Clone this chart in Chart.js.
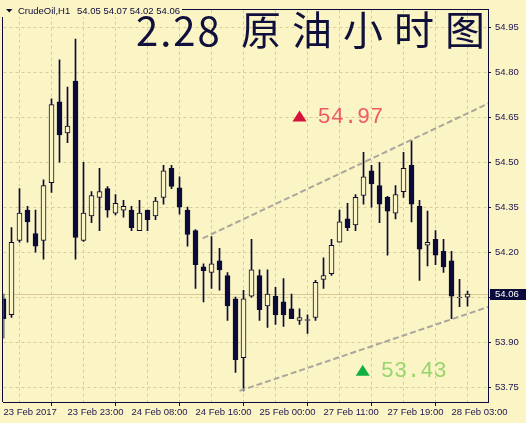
<!DOCTYPE html>
<html>
<head>
<meta charset="utf-8">
<script src="https://cdn.jsdelivr.net/npm/chart.js@4"></script>
<style>
    html, body { margin: 0; padding: 0; background: #fbf4c4; }
</style>
</head>
<body>
<canvas id="grafico" width="526" height="423"></canvas>
<script>
// etiquetas del eje de tiempo (una cada 8 velas)
const etiquetasHora = ['23 Feb 2017', '23 Feb 23:00', '24 Feb 08:00', '24 Feb 16:00',
    '25 Feb 00:00', '27 Feb 11:00', '27 Feb 19:00', '28 Feb 03:00'];

// velas H1
const aperturas = [54.044, 53.991, 54.239, 54.340, 54.262, 54.239, 54.432, 54.702, 54.598, 54.771,
    54.239, 54.321, 54.383, 54.412, 54.330, 54.340, 54.340, 54.272, 54.340, 54.321,
    54.383, 54.480, 54.415, 54.340, 54.272, 54.151, 54.132, 54.171, 54.122, 54.044,
    53.848, 54.053, 54.122, 54.021, 54.053, 54.034, 54.011, 53.972, 53.972, 53.982,
    54.109, 54.128, 54.233, 54.311, 54.291, 54.389, 54.471, 54.422, 54.383, 54.330,
    54.402, 54.490, 54.353, 54.223, 54.243, 54.203, 54.171, 54.047, 54.05];
const maximos = [54.060, 54.282, 54.412, 54.353, 54.340, 54.441, 54.712, 54.842, 54.751, 54.911,
    54.500, 54.402, 54.480, 54.419, 54.392, 54.373, 54.353, 54.373, 54.340, 54.383,
    54.490, 54.490, 54.451, 54.350, 54.275, 54.161, 54.252, 54.213, 54.132, 54.050,
    54.073, 54.243, 54.141, 54.141, 54.083, 54.112, 54.060, 54.011, 53.991, 54.106,
    54.181, 54.243, 54.340, 54.363, 54.392, 54.533, 54.490, 54.500, 54.386, 54.422,
    54.533, 54.572, 54.373, 54.337, 54.272, 54.243, 54.203, 54.109, 54.07];
const minimos = [53.913, 53.982, 54.233, 54.233, 54.200, 54.177, 54.399, 54.500, 54.565, 54.177,
    54.236, 54.298, 54.272, 54.317, 54.324, 54.317, 54.272, 54.272, 54.272, 54.308,
    54.360, 54.412, 54.327, 54.220, 54.079, 54.034, 54.079, 54.073, 53.972, 53.799,
    53.737, 54.050, 53.972, 53.949, 53.959, 53.952, 53.978, 53.959, 53.929, 53.972,
    54.079, 54.122, 54.233, 54.272, 54.272, 54.360, 54.350, 54.298, 54.190, 54.311,
    54.383, 54.301, 54.106, 54.154, 54.158, 54.132, 53.978, 54.018, 54.02];
const cierres = [53.978, 54.233, 54.330, 54.301, 54.220, 54.422, 54.692, 54.591, 54.621, 54.249,
    54.330, 54.389, 54.402, 54.340, 54.363, 54.353, 54.282, 54.330, 54.308, 54.370,
    54.471, 54.419, 54.350, 54.259, 54.158, 54.138, 54.161, 54.141, 54.021, 53.841,
    54.044, 54.141, 54.008, 54.060, 53.991, 53.991, 53.978, 53.982, 53.972, 54.099,
    54.122, 54.223, 54.301, 54.282, 54.383, 54.451, 54.428, 54.360, 54.337, 54.392,
    54.480, 54.360, 54.210, 54.233, 54.190, 54.151, 54.053, 54.050, 54.06];

const ticksPrecio = [53.75, 53.90, 54.05, 54.20, 54.35, 54.50, 54.65, 54.80, 54.95];
const precioActual = 54.06;

// canal dibujado a mano: [vela, precio]
const lineaSuperior = [[24.9, 54.246], [60.6, 54.696]];
const lineaInferior = [[29.5, 53.737], [60.6, 54.0175]];

// marcas de objetivo: [vela, precio, texto]
const objetivoAlto = [37, 54.653, '54.97'];
const objetivoBajo = [44.9, 53.804, '53.43'];

const cabecera = 'CrudeOil,H1';
const ohlcActual = '54.05 54.07 54.02 54.06';
const tituloNumero = '2.28';
const tituloTexto = '原油小时图';

const FONDO = '#fbf4c4';
const AZUL = '#0b0b3b';
const REJILLA = '#d9cc98';

document.addEventListener('DOMContentLoaded', function () {
    const canvas = document.getElementById('grafico');

    const cuerpos = aperturas.map((o, i) => ({ x: i, y: [Math.min(o, cierres[i]), Math.max(o, cierres[i])] }));
    const mechas = maximos.map((h, i) => ({ x: i, y: [minimos[i], h] }));
    const relleno = aperturas.map((o, i) => cierres[i] < o ? AZUL : FONDO);

    const fondoPlugin = {
        id: 'fondo',
        beforeDraw(chart) {
            const ctx = chart.ctx;
            ctx.save();
            ctx.fillStyle = FONDO;
            ctx.fillRect(0, 0, chart.width, chart.height);
            ctx.restore();
        },
        beforeDatasetsDraw(chart) {
            const ctx = chart.ctx;
            const area = chart.chartArea;
            const y = Math.round(chart.scales.y.getPixelForValue(precioActual)) + 0.5;
            ctx.save();
            ctx.strokeStyle = '#d6c793';
            ctx.lineWidth = 1;
            ctx.beginPath();
            ctx.moveTo(area.left, y);
            ctx.lineTo(area.right, y);
            ctx.stroke();
            ctx.restore();
        },
        afterDraw(chart) {
            const ctx = chart.ctx;
            const area = chart.chartArea;
            const sx = chart.scales.x;
            const sy = chart.scales.y;
            ctx.save();

            // marco izquierdo y superior
            ctx.strokeStyle = AZUL;
            ctx.lineWidth = 1;
            ctx.beginPath();
            ctx.moveTo(Math.floor(area.left) - 0.5, area.bottom);
            ctx.lineTo(Math.floor(area.left) - 0.5, Math.floor(area.top) + 0.5);
            ctx.lineTo(area.right, Math.floor(area.top) + 0.5);
            ctx.stroke();

            // cabecera
            ctx.fillStyle = FONDO;
            ctx.fillRect(0, 0, 182, 17);
            ctx.fillStyle = AZUL;
            ctx.beginPath();
            ctx.moveTo(6, 9);
            ctx.lineTo(12.5, 9);
            ctx.lineTo(9.25, 12.5);
            ctx.closePath();
            ctx.fill();
            ctx.font = '9.5px "Liberation Sans", Arial, sans-serif';
            ctx.textBaseline = 'middle';
            ctx.textAlign = 'left';
            ctx.fillText(cabecera, 18, 11);
            ctx.fillText(ohlcActual, 77, 11);

            // titulo
            ctx.fillStyle = '#10103c';
            ctx.font = '400 40px "Noto Sans CJK SC", sans-serif';
            ctx.textBaseline = 'middle';
            ctx.letterSpacing = '2px';
            ctx.fillText(tituloNumero, 136, 31);
            ctx.letterSpacing = '11px';
            ctx.fillText(tituloTexto, 241, 30);
            ctx.letterSpacing = '0px';

            // objetivos
            dibujarObjetivo(ctx, sx, sy, objetivoAlto, '#d4123c', '#ee5a66');
            dibujarObjetivo(ctx, sx, sy, objetivoBajo, '#12b043', '#9ad46e');

            // caja de precio actual
            const yp = Math.round(sy.getPixelForValue(precioActual));
            ctx.fillStyle = AZUL;
            ctx.fillRect(area.right + 2, yp - 5, chart.width - area.right - 2, 11);
            ctx.fillStyle = '#ffffff';
            ctx.font = '9.5px "Liberation Sans", Arial, sans-serif';
            ctx.textBaseline = 'middle';
            ctx.fillText(precioActual.toFixed(2), area.right + 7, yp + 0.5);
            ctx.restore();
        }
    };

    function dibujarObjetivo(ctx, sx, sy, objetivo, colorFlecha, colorTexto) {
        const cx = sx.getPixelForValue(objetivo[0]);
        const cy = sy.getPixelForValue(objetivo[1]);
        ctx.fillStyle = colorFlecha;
        ctx.beginPath();
        ctx.moveTo(cx - 7, cy + 5);
        ctx.lineTo(cx + 7, cy + 5);
        ctx.lineTo(cx, cy - 6);
        ctx.closePath();
        ctx.fill();
        ctx.fillStyle = colorTexto;
        ctx.font = '22px "Liberation Mono", monospace';
        ctx.textBaseline = 'middle';
        ctx.textAlign = 'left';
        ctx.fillText(objetivo[2], cx + 18, cy + 0.5);
    }

    new Chart(canvas, {
        type: 'bar',
        data: {
            datasets: [{
                type: 'line',
                data: lineaSuperior.map(p => ({ x: p[0], y: p[1] })),
                borderColor: '#a9a79c',
                borderWidth: 2,
                borderDash: [6, 3],
                pointRadius: 0,
                fill: false
            }, {
                type: 'line',
                data: lineaInferior.map(p => ({ x: p[0], y: p[1] })),
                borderColor: '#a9a79c',
                borderWidth: 2,
                borderDash: [6, 3],
                pointRadius: 0,
                fill: false
            }, {
                data: cuerpos,
                backgroundColor: relleno,
                borderColor: AZUL,
                borderWidth: 1,
                borderSkipped: false,
                barThickness: 5,
                minBarLength: 1,
                grouped: false
            }, {
                data: mechas,
                backgroundColor: AZUL,
                borderWidth: 0,
                barThickness: 1,
                grouped: false
            }]
        },
        options: {
            responsive: false,
            animation: false,
            devicePixelRatio: 1,
            layout: { padding: { left: 3.5, top: 1, right: 0, bottom: 0 } },
            plugins: {
                legend: { display: false },
                tooltip: { enabled: false }
            },
            scales: {
                x: {
                    type: 'linear',
                    min: 0,
                    max: 60.56,
                    offset: false,
                    afterBuildTicks: scale => {
                        scale.ticks = [];
                        for (let v = 0; v <= 60; v += 4) scale.ticks.push({ value: v });
                    },
                    afterFit: scale => { scale.height = 21; },
                    ticks: {
                        autoSkip: false,
                        maxRotation: 0,
                        align: 'start',
                        padding: 1,
                        color: '#1e1450',
                        font: { family: '"Liberation Sans", Arial, sans-serif', size: 9.5 },
                        callback: v => v % 8 === 0 ? etiquetasHora[v / 8] : ''
                    },
                    grid: {
                        color: REJILLA,
                        tickLength: 4,
                        tickBorderDash: [],
                        tickColor: c => (c.tick && c.tick.value % 8 === 0) ? AZUL : 'rgba(0,0,0,0)'
                    },
                    border: { color: AZUL, width: 1, dash: [3, 3] }
                },
                y: {
                    position: 'right',
                    min: 53.70,
                    max: 55.009,
                    afterBuildTicks: scale => {
                        scale.ticks = ticksPrecio.map(v => ({ value: v }));
                    },
                    afterFit: scale => { scale.width = 38; },
                    ticks: {
                        padding: 4,
                        color: '#1e1450',
                        font: { family: '"Liberation Sans", Arial, sans-serif', size: 9.5 },
                        callback: v => Math.abs(v - 54.05) < 0.001 ? '' : v.toFixed(2)
                    },
                    grid: {
                        color: REJILLA,
                        tickLength: 3,
                        tickBorderDash: [],
                        tickColor: AZUL
                    },
                    border: { color: AZUL, width: 1, dash: [3, 3] }
                }
            }
        },
        plugins: [fondoPlugin]
    });
});
</script>
</body>
</html>
